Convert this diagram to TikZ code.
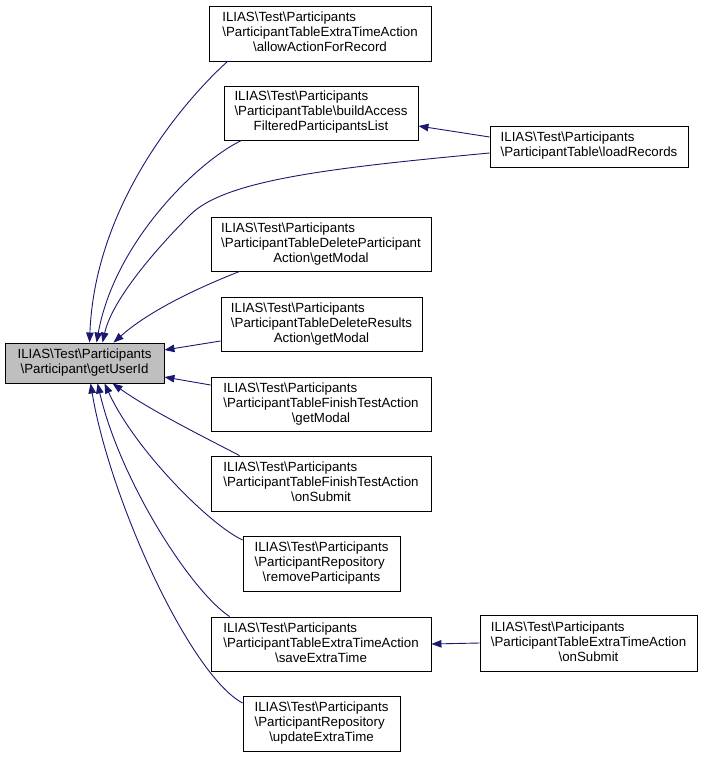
\documentclass[tikz,border=0pt]{standalone}
\usepackage{fontspec}
\setmainfont{Liberation Sans}
\usepackage{tikz}
\usetikzlibrary{arrows.meta}
\definecolor{midnight}{RGB}{25,25,112}
\definecolor{callgray}{RGB}{191,191,191}
\newcommand{\bksl}{\textbackslash}
% upper lines flush left, last line centred
\newcommand{\fnlines}[2]{\begin{tabular}{@{}l@{}}#1\\\multicolumn{1}{@{}c@{}}{#2}\end{tabular}}

\begin{document}
\begin{tikzpicture}[x=1pt, y=-1pt,
    fn/.style={draw=black, line width=0.9pt, fill=white, inner sep=0pt,
        font=\fontsize{13.3}{15}\selectfont},
    calls/.style={draw=midnight, line width=0.9pt, -{Triangle[length=10pt,width=7.5pt]}}]
\useasboundingbox (0,0) rectangle (703,757);

% Function being called
\node[fn, fill=callgray, minimum width=159pt, minimum height=40pt] (main) at (84.5,363)
    {\fnlines{ILIAS\bksl Test\bksl Participants}{\bksl Participant\bksl getUserId}};

% Callers
\node[fn, minimum width=222pt, minimum height=55pt] (a1) at (320,33.5)
    {\fnlines{ILIAS\bksl Test\bksl Participants\\\bksl ParticipantTableExtraTimeAction}{\bksl allowActionForRecord}};
\node[fn, minimum width=194pt, minimum height=54pt] (a2) at (321,113)
    {\fnlines{ILIAS\bksl Test\bksl Participants\\\bksl ParticipantTable\bksl buildAccess}{FilteredParticipantsList}};
\node[fn, minimum width=198pt, minimum height=41pt] (load) at (589,146.5)
    {\fnlines{ILIAS\bksl Test\bksl Participants}{\bksl ParticipantTable\bksl loadRecords}};
\node[fn, minimum width=220pt, minimum height=54pt] (a3) at (321,244)
    {\fnlines{ILIAS\bksl Test\bksl Participants\\\bksl ParticipantTableDeleteParticipant}{Action\bksl getModal}};
\node[fn, minimum width=201pt, minimum height=54pt] (a4) at (321.5,324)
    {\fnlines{ILIAS\bksl Test\bksl Participants\\\bksl ParticipantTableDeleteResults}{Action\bksl getModal}};
\node[fn, minimum width=220pt, minimum height=54pt] (a5) at (321,404)
    {\fnlines{ILIAS\bksl Test\bksl Participants\\\bksl ParticipantTableFinishTestAction}{\bksl getModal}};
\node[fn, minimum width=220pt, minimum height=55pt] (a6) at (321,483.5)
    {\fnlines{ILIAS\bksl Test\bksl Participants\\\bksl ParticipantTableFinishTestAction}{\bksl onSubmit}};
\node[fn, minimum width=157pt, minimum height=55pt] (a7) at (321.5,563.5)
    {\fnlines{ILIAS\bksl Test\bksl Participants\\\bksl ParticipantRepository}{\bksl removeParticipants}};
\node[fn, minimum width=220pt, minimum height=54pt] (a8) at (321,644)
    {\fnlines{ILIAS\bksl Test\bksl Participants\\\bksl ParticipantTableExtraTimeAction}{\bksl saveExtraTime}};
\node[fn, minimum width=217pt, minimum height=56pt] (ons) at (588.5,643)
    {\fnlines{ILIAS\bksl Test\bksl Participants\\\bksl ParticipantTableExtraTimeAction}{\bksl onSubmit}};
\node[fn, minimum width=157pt, minimum height=55pt] (a9) at (321.5,723.5)
    {\fnlines{ILIAS\bksl Test\bksl Participants\\\bksl ParticipantRepository}{\bksl updateExtraTime}};

% Calls into getUserId
\draw[calls] ([xshift=19]a1.south west) .. controls (190,95) and (95,200) .. ([xshift=85]main.north west);
\draw[calls] ([xshift=18]a2.south west) .. controls (200,160) and (115,240) .. ([xshift=92]main.north west);
\draw[calls] ([yshift=-6.5]load.west) .. controls (330,168) and (225,180) .. (190,215)
    .. controls (155,250) and (112,300) .. ([xshift=98]main.north west);
\draw[calls] ([xshift=29]a3.south west) .. controls (200,287) and (150,310) .. ([xshift=109]main.north west);
\draw[calls] ([yshift=-17]a4.west) -- ([yshift=13]main.east);
\draw[calls] ([yshift=19]a5.west) -- ([yshift=-14]main.east);
\draw[calls] ([xshift=29]a6.north west) .. controls (200,435) and (150,410) .. ([xshift=108]main.south west);
\draw[calls] ([yshift=23.5]a7.west) .. controls (210,525) and (135,450) .. ([xshift=100]main.south west);
\draw[calls] ([xshift=19]a8.north west) .. controls (190,590) and (120,480) .. ([xshift=93]main.south west);
\draw[calls] ([yshift=20.5]a9.west) .. controls (190,675) and (110,500) .. ([xshift=86]main.south west);

% Second level calls
\draw[calls] ([yshift=9.5]load.west) -- ([yshift=-13]a2.east);
\draw[calls] (ons.west) -- (a8.east);
\end{tikzpicture}
\end{document}
